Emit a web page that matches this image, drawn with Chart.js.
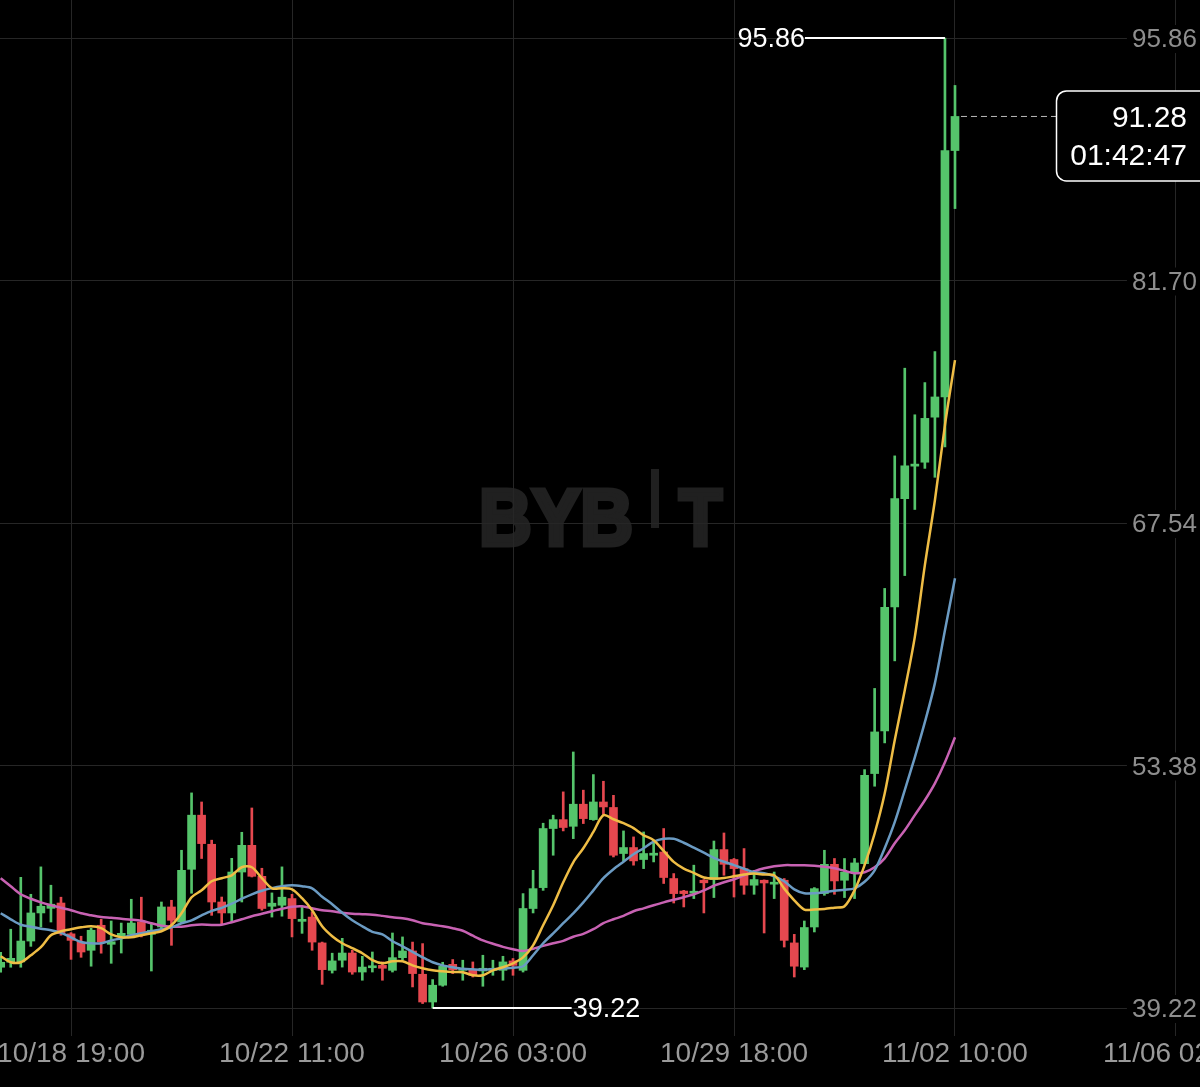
<!DOCTYPE html>
<html lang="en">
<head>
<meta charset="UTF-8">
<title>BYBIT 4h chart</title>
<style>
  html, body { margin: 0; padding: 0; background: #000; }
  #wrap { width: 1200px; height: 1087px; position: relative; }
</style>
</head>
<body>
<div id="wrap"><canvas id="myChart"></canvas></div>

<script src="https://cdn.jsdelivr.net/npm/chart.js@4.4.0/dist/chart.umd.min.js"></script>
<script>
// 4h candles, 10/17 23:00 .. 11/02 10:00
const openP = [41.60, 41.89, 41.91, 43.13, 44.77, 45.04, 45.35, 43.55, 43.07, 42.59,
  44.05, 42.94, 43.41, 43.52, 44.24, 43.52, 43.95, 45.12, 44.24, 47.32,
  50.48, 48.78, 45.41, 44.77, 47.16, 48.72, 46.91, 45.16, 45.22, 45.61,
  44.28, 44.53, 43.02, 41.42, 42.01, 42.43, 41.32, 41.57, 41.71, 41.42,
  42.16, 42.55, 41.19, 39.57, 40.55, 41.77, 41.42, 41.42, 41.38, 41.42,
  41.42, 41.97, 41.42, 45.03, 46.25, 49.70, 50.22, 49.83, 51.12, 50.22,
  51.25, 50.93, 48.24, 48.59, 47.89, 48.14, 48.33, 46.78, 46.05, 45.92,
  46.68, 46.72, 48.47, 47.89, 47.36, 46.39, 46.68, 46.45, 46.68, 43.02,
  41.61, 43.95, 45.90, 47.61, 46.68, 47.16, 47.65, 52.91, 55.40, 62.64,
  68.96, 70.86, 71.09, 73.72, 74.90, 89.29];
const highP = [42.47, 43.82, 46.85, 45.86, 47.46, 46.39, 45.69, 43.62, 43.41, 43.88,
  44.40, 44.30, 44.18, 45.57, 45.69, 44.17, 45.41, 45.51, 48.43, 51.78,
  51.25, 49.02, 45.70, 47.96, 49.48, 50.90, 47.38, 45.94, 47.46, 45.86,
  45.10, 44.83, 43.07, 42.42, 43.29, 42.59, 42.24, 42.49, 41.91, 43.60,
  43.37, 43.07, 42.98, 40.88, 41.89, 42.05, 42.01, 41.91, 42.30, 42.01,
  42.24, 42.11, 45.90, 47.26, 50.01, 50.48, 51.84, 54.17, 51.94, 52.85,
  52.46, 51.64, 49.56, 49.21, 49.50, 49.02, 49.70, 47.07, 46.09, 47.56,
  46.72, 48.97, 49.44, 47.95, 48.53, 47.26, 46.70, 47.16, 46.78, 43.52,
  44.30, 46.25, 48.43, 47.95, 47.95, 47.95, 53.14, 57.88, 63.72, 71.46,
  76.58, 73.86, 75.74, 77.55, 95.86, 93.09];
const lowP = [41.31, 41.60, 41.60, 42.82, 43.95, 44.24, 43.47, 42.06, 42.18, 41.66,
  42.42, 41.83, 42.43, 43.37, 43.37, 41.38, 43.86, 42.88, 44.17, 45.92,
  47.95, 44.63, 44.11, 44.24, 45.41, 46.87, 44.93, 44.53, 44.58, 43.37,
  43.58, 42.59, 40.60, 41.26, 41.61, 41.19, 40.84, 41.32, 40.84, 41.32,
  42.01, 40.45, 39.48, 39.22, 40.49, 41.23, 40.84, 41.03, 40.49, 41.13,
  40.84, 41.13, 41.32, 44.77, 46.09, 48.14, 49.56, 49.11, 49.99, 50.18,
  50.53, 48.04, 47.81, 47.56, 47.36, 47.75, 46.49, 45.35, 45.12, 45.61,
  44.77, 45.67, 46.97, 45.70, 45.86, 45.86, 43.60, 45.61, 42.78, 41.03,
  41.46, 43.66, 45.80, 45.86, 45.67, 45.61, 47.61, 52.17, 54.70, 59.49,
  64.47, 68.33, 70.73, 70.21, 71.98, 85.90];
const closeP = [41.89, 42.12, 43.13, 44.77, 45.16, 45.28, 43.57, 43.17, 42.49, 43.76,
  43.07, 43.09, 43.58, 44.18, 43.57, 43.76, 45.12, 44.34, 47.26, 50.48,
  48.82, 45.41, 44.77, 47.16, 48.72, 46.91, 45.03, 45.34, 45.69, 44.44,
  44.40, 43.07, 41.46, 41.97, 42.43, 41.32, 41.61, 41.66, 41.54, 42.16,
  42.55, 41.23, 39.57, 40.55, 41.66, 41.46, 41.52, 41.13, 41.54, 41.54,
  41.91, 41.71, 45.03, 46.19, 49.70, 50.22, 49.76, 51.12, 50.28, 51.25,
  50.96, 48.14, 48.59, 47.81, 48.24, 48.26, 46.84, 45.90, 45.90, 46.04,
  46.53, 48.47, 47.61, 47.36, 46.39, 46.72, 46.52, 46.53, 43.17, 41.66,
  43.92, 46.19, 47.61, 46.64, 47.16, 47.69, 52.81, 55.34, 62.61, 68.96,
  70.88, 70.98, 73.65, 74.90, 89.29, 91.28];

// moving averages (yellow / blue / pink)
const maFast = [42.24, 41.89, 41.89, 42.30, 42.77, 43.47, 43.70, 43.82, 43.93, 43.99,
  43.88, 43.52, 43.35, 43.35, 43.47, 43.58, 43.70, 44.05, 44.75, 45.69,
  46.09, 46.62, 46.80, 46.97, 47.44, 47.44, 46.80, 46.21, 46.21, 46.15,
  45.63, 44.93, 43.99, 43.41, 43.00, 42.71, 42.42, 42.01, 41.83, 41.95,
  41.95, 41.71, 41.54, 41.42, 41.36, 41.32, 41.31, 41.13, 41.13, 41.42,
  41.60, 41.83, 42.18, 42.88, 44.05, 45.22, 46.56, 47.73, 48.55, 49.50,
  50.48, 50.24, 50.01, 49.72, 49.31, 49.02, 48.39, 47.75, 47.36, 47.11,
  46.84, 46.78, 46.81, 46.91, 47.01, 47.07, 47.01, 46.97, 46.19, 45.51,
  44.97, 44.97, 45.00, 45.08, 45.16, 46.09, 47.56, 49.41, 51.74, 54.86,
  57.78, 60.89, 65.08, 68.87, 73.26, 77.05];
const maMid = [44.75, 44.40, 44.08, 43.96, 43.85, 43.76, 43.61, 43.35, 43.07, 43.00,
  43.00, 43.17, 43.29, 43.47, 43.58, 43.70, 43.82, 43.93, 44.17, 44.34,
  44.63, 44.89, 45.07, 45.31, 45.60, 45.86, 46.07, 46.22, 46.33, 46.39,
  46.33, 46.21, 45.72, 45.28, 44.78, 44.34, 43.99, 43.67, 43.52, 43.12,
  42.82, 42.50, 42.18, 41.89, 41.71, 41.60, 41.51, 41.48, 41.46, 41.48,
  41.52, 41.57, 41.66, 42.30, 43.00, 43.58, 44.17, 44.75, 45.39, 46.09,
  46.80, 47.32, 47.76, 48.20, 48.55, 48.93, 49.10, 49.10, 48.87, 48.58,
  48.29, 47.99, 47.76, 47.56, 47.35, 47.15, 47.09, 46.91, 46.62, 46.15,
  45.92, 45.92, 45.98, 46.07, 46.12, 46.21, 46.59, 47.26, 48.55, 50.07,
  51.94, 53.86, 55.91, 58.19, 61.28, 64.32];
const maSlow = [46.80, 46.33, 45.86, 45.60, 45.39, 45.22, 45.07, 44.93, 44.75, 44.63,
  44.53, 44.49, 44.43, 44.38, 44.31, 44.17, 44.03, 43.97, 43.97, 44.05,
  44.09, 44.07, 44.08, 44.23, 44.40, 44.58, 44.72, 44.87, 45.01, 45.13,
  45.16, 45.04, 44.93, 44.87, 44.78, 44.73, 44.70, 44.67, 44.60, 44.52,
  44.46, 44.34, 44.17, 44.08, 43.99, 43.88, 43.73, 43.44, 43.17, 42.97,
  42.79, 42.65, 42.55, 42.68, 42.85, 43.00, 43.14, 43.38, 43.55, 43.82,
  44.17, 44.40, 44.60, 44.87, 45.04, 45.22, 45.39, 45.54, 45.69, 45.86,
  46.09, 46.36, 46.56, 46.74, 46.97, 47.20, 47.38, 47.50, 47.56, 47.56,
  47.56, 47.53, 47.47, 47.38, 47.23, 47.09, 47.15, 47.44, 47.96, 48.84,
  49.60, 50.48, 51.35, 52.34, 53.57, 55.03];

// axis ticks
const tickIdx = [7, 29, 51, 73, 95, 117];
const tickLabels = ['10/18 19:00', '10/22 11:00', '10/26 03:00', '10/29 18:00', '11/02 10:00', '11/06 02:00'];
const priceTicks = [95.86, 81.70, 67.54, 53.38, 39.22];
const lastPrice = 91.28;
const countdown = '01:42:47';

const upColor = '#55c46b';
const downColor = '#e5484f';
const FONT = '"Liberation Sans", Arial, sans-serif';

const idx = closeP.map((c, i) => i);
const isUp = i => closeP[i] >= openP[i];
const candleColor = ctx => isUp(ctx.dataIndex) ? upColor : downColor;

const wicks = idx.map(i => ({ x: i, y: [lowP[i], highP[i]] }));
const bodies = idx.map(i => ({ x: i, y: [openP[i], closeP[i]] }));
const asLine = arr => arr.map((v, i) => ({ x: i, y: v }));

const hiIdx = highP.indexOf(Math.max(...highP));
const loIdx = lowP.indexOf(Math.min(...lowP));

// background, watermark, axis labels and price markers
const overlay = {
    id: 'overlay',
    beforeDraw(chart) {
        const ctx = chart.ctx;
        ctx.save();
        ctx.fillStyle = '#000';
        ctx.fillRect(0, 0, chart.width, chart.height);

        // BYBIT watermark (heavy letters, raised I bar)
        ctx.fillStyle = '#202020';
        ctx.strokeStyle = '#202020';
        ctx.lineWidth = 5;
        ctx.lineJoin = 'miter';
        ctx.font = 'bold 80px ' + FONT;
        ctx.textBaseline = 'alphabetic';
        ctx.textAlign = 'left';
        let w = ctx.measureText('BYB').width;
        ctx.save();
        ctx.translate(479, 545);
        ctx.scale(154 / w, 1);
        ctx.fillText('BYB', 0, 0);
        ctx.strokeText('BYB', 0, 0);
        ctx.restore();
        ctx.fillRect(651, 469, 8, 59);
        w = ctx.measureText('T').width;
        ctx.save();
        ctx.translate(679, 545);
        ctx.scale(43 / w, 1);
        ctx.fillText('T', 0, 0);
        ctx.strokeText('T', 0, 0);
        ctx.restore();
        ctx.restore();
    },
    afterDraw(chart) {
        const ctx = chart.ctx;
        const xs = chart.scales.x, ys = chart.scales.y;
        ctx.save();

        // price labels on the right
        ctx.font = '26px ' + FONT;
        ctx.textAlign = 'right';
        ctx.textBaseline = 'middle';
        priceTicks.forEach(v => {
            const y = ys.getPixelForValue(v);
            const tw = ctx.measureText(v.toFixed(2)).width;
            ctx.fillStyle = '#000';
            ctx.fillRect(1197 - tw - 5, y - 13, tw + 8, 28);
            ctx.fillStyle = '#8e8e8e';
            ctx.fillText(v.toFixed(2), 1197, y + 2);
        });

        // time labels
        ctx.font = '28px ' + FONT;
        ctx.textAlign = 'center';
        ctx.fillStyle = '#9a9a9a';
        tickIdx.forEach((t, k) => {
            ctx.fillText(tickLabels[k], xs.getPixelForValue(t), 1054);
        });

        // high marker
        ctx.strokeStyle = '#fff';
        ctx.fillStyle = '#fff';
        ctx.lineWidth = 2;
        ctx.font = '27px ' + FONT;
        let x = xs.getPixelForValue(hiIdx), y = ys.getPixelForValue(highP[hiIdx]);
        ctx.beginPath();
        ctx.moveTo(x - 140, y);
        ctx.lineTo(x, y);
        ctx.stroke();
        ctx.textAlign = 'right';
        ctx.fillText(highP[hiIdx].toFixed(2), x - 140, y + 2);

        // low marker
        x = xs.getPixelForValue(loIdx);
        y = ys.getPixelForValue(lowP[loIdx]);
        ctx.beginPath();
        ctx.moveTo(x, y);
        ctx.lineTo(x + 139, y);
        ctx.stroke();
        ctx.textAlign = 'left';
        ctx.fillText(lowP[loIdx].toFixed(2), x + 140, y + 2);

        // last price line + box
        const last = closeP.length - 1;
        x = xs.getPixelForValue(last);
        y = ys.getPixelForValue(lastPrice);
        ctx.strokeStyle = '#bdbdbd';
        ctx.lineWidth = 1;
        ctx.setLineDash([6, 4]);
        ctx.beginPath();
        ctx.moveTo(x + 6, y);
        ctx.lineTo(1056, y);
        ctx.stroke();
        ctx.setLineDash([]);

        ctx.fillStyle = '#000';
        ctx.strokeStyle = '#fff';
        ctx.lineWidth = 1.5;
        ctx.beginPath();
        ctx.roundRect(1056.5, y - 25.5, 160, 90, 10);
        ctx.fill();
        ctx.stroke();
        ctx.fillStyle = '#fff';
        ctx.font = '30px ' + FONT;
        ctx.textAlign = 'right';
        ctx.fillText(lastPrice.toFixed(2), 1187, y + 2);
        ctx.fillText(countdown, 1187, y + 40);

        ctx.restore();
    }
};

const data = {
    datasets: [
        { type: 'line', label: 'MA7', data: asLine(maFast), borderColor: '#efbd45', borderWidth: 2.5, pointRadius: 0, tension: 0.3, order: 0 },
        { type: 'line', label: 'MA14', data: asLine(maMid), borderColor: '#6b9bc3', borderWidth: 2.5, pointRadius: 0, tension: 0.3, order: 0 },
        { type: 'line', label: 'MA28', data: asLine(maSlow), borderColor: '#c862b3', borderWidth: 2.5, pointRadius: 0, tension: 0.3, order: 0 },
        { type: 'bar', label: 'body', data: bodies, backgroundColor: candleColor, barThickness: 8, minBarLength: 2, grouped: false, order: 1 },
        { type: 'bar', label: 'wick', data: wicks, backgroundColor: candleColor, barThickness: 2, grouped: false, order: 2 }
    ]
};

const config = {
    type: 'bar',
    data,
    options: {
        responsive: true,
        maintainAspectRatio: false,
        animation: false,
        layout: { padding: { left: 0, right: 0, top: 0, bottom: 51 } },
        plugins: {
            legend: { display: false },
            tooltip: { enabled: false }
        },
        scales: {
            x: {
                type: 'linear',
                min: -0.07,
                max: 119.39,
                offset: false,
                afterBuildTicks: s => { s.ticks = tickIdx.map(v => ({ value: v })); },
                ticks: { display: false },
                grid: { color: '#262626', lineWidth: 1, drawTicks: false, offset: false },
                border: { display: false }
            },
            y: {
                type: 'linear',
                position: 'right',
                min: 37.585,
                max: 98.08,
                afterBuildTicks: s => { s.ticks = priceTicks.map(v => ({ value: v })); },
                ticks: { display: false },
                grid: { color: '#262626', lineWidth: 1, drawTicks: false },
                border: { display: false }
            }
        }
    },
    plugins: [overlay]
};

const myChart = new Chart(document.getElementById('myChart'), config);
</script>
</body>
</html>
